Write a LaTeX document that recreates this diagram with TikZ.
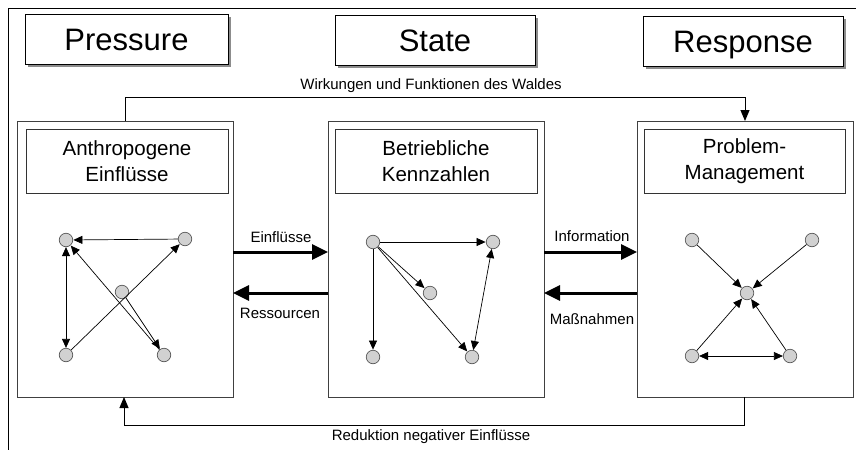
\documentclass[tikz,border=0pt]{standalone}
\usepackage{fontspec}
\setmainfont{Liberation Sans}
\usetikzlibrary{arrows.meta,shadows}

\begin{document}
\begin{tikzpicture}[x=1pt,y=-1pt,
  headbox/.style={draw=black, line width=0.8pt, fill=white, inner sep=0pt, outer sep=0pt,
    minimum height=50pt, text height=23pt, text depth=0pt, font=\fontsize{31}{36}\selectfont,
    drop shadow={shadow xshift=2.5pt, shadow yshift=-2.5pt, fill=black!45, opacity=1}},
  panel/.style={draw=black!75, line width=0.8pt, minimum width=216pt, minimum height=276pt,
    inner sep=0pt, outer sep=0pt},
  titlebox/.style={draw=black!80, line width=0.8pt, minimum width=202pt, minimum height=64pt,
    inner sep=0pt, outer sep=0pt, align=center, font=\fontsize{20.5}{26}\selectfont},
  dot/.style={circle, draw=black!65, fill=black!18, minimum size=13.5pt, inner sep=0pt,
    line width=0.7pt},
  link/.style={line width=0.7pt, -{Triangle[length=9pt,width=8pt]}, shorten >=0.3pt},
  both/.style={line width=0.7pt, {Triangle[length=9pt,width=8pt]}-{Triangle[length=9pt,width=8pt]}},
  fat/.style={line width=3pt, -{Triangle[length=16pt,width=15pt]}},
  loop/.style={line width=1pt, -{Triangle[length=11pt,width=9pt]}},
  lbl/.style={inner sep=0pt, font=\fontsize{15}{18}\selectfont}
]
\useasboundingbox (0,0) rectangle (856,450);

% outer frame (open to the right and the bottom)
\draw[line width=0.8pt] (856,8.5) -- (8,8.5) -- (8,450);

% headings
\node[headbox, minimum width=203pt] (hp) at (126.5,39) {Pressure};
\node[headbox, minimum width=200pt] (hs) at (435,40) {State};
\node[headbox, minimum width=200pt] (hr) at (743,41) {Response};

% three panels
\node[panel] (lp) at (125,259) {};
\node[panel] (mp) at (436,259.5) {};
\node[panel] (rp) at (745,259) {};

\node[titlebox] (lt) at (127,161) {Anthropogene\\Einflüsse};
\node[titlebox] (mt) at (436,161) {Betriebliche\\Kennzahlen};
\node[titlebox, minimum width=201pt] (rt) at (744.5,161.5) {Problem-\\Management};

% left panel network
\node[dot] (a1) at (66,240) {};
\node[dot] (a2) at (185,239) {};
\node[dot] (a3) at (122,292) {};
\node[dot] (a4) at (66,355) {};
\node[dot] (a5) at (164,355) {};
\draw[link] (a2) -- (a1);
\draw[both] (a1) -- (a4);
\draw[link] (a4) -- (a2);
\draw[link] (a5) -- (a1);
\draw[link] (a3) -- (a5);

% middle panel network
\node[dot] (b1) at (373,242) {};
\node[dot] (b2) at (493,242) {};
\node[dot] (b3) at (430,293) {};
\node[dot] (b4) at (373,357) {};
\node[dot] (b5) at (472,357) {};
\draw[link] (b1) -- (b2);
\draw[link] (b1) -- (b3);
\draw[link] (b1) -- (b5);
\draw[link] (b1) -- (b4);
\draw[both] (b2) -- (b5);

% right panel network
\node[dot] (c1) at (692,240) {};
\node[dot] (c2) at (812,240) {};
\node[dot] (c3) at (747,293) {};
\node[dot] (c4) at (692,356) {};
\node[dot] (c5) at (790,356) {};
\draw[link] (c1) -- (c3);
\draw[link] (c2) -- (c3);
\draw[link] (c4) -- (c3);
\draw[link] (c5) -- (c3);
\draw[both] (c4) -- (c5);

% exchange arrows between panels
\coordinate (upper) at (0,252);
\coordinate (lower) at (0,293);
\draw[fat] (lp.east |- upper) -- (mp.west |- upper);
\draw[fat] (mp.west |- lower) -- (lp.east |- lower);
\draw[fat] (mp.east |- upper) -- (rp.west |- upper);
\draw[fat] (rp.west |- lower) -- (mp.east |- lower);
\node[lbl] (l1) at (281,237) {Einflüsse};
\node[lbl] (l2) at (280,313) {Ressourcen};
\node[lbl] (l3) at (592,236) {Information};
\node[lbl] (l4) at (592,319) {Maßnahmen};

% feedback loops
\coordinate (tl) at (125,97);
\coordinate (tr) at (745,97);
\draw[loop] (lp.north -| tl) -- (tl) -- (tr) -- (rp.north -| tr);
\node[lbl] (l5) at (431,86) {Wirkungen und Funktionen des Waldes};

\coordinate (br) at (744,425);
\coordinate (bl) at (124,425);
\draw[loop] (rp.south -| br) -- (br) -- (bl) -- (lp.south -| bl);
\node[lbl] (l6) at (431,437) {Reduktion negativer Einflüsse};
\end{tikzpicture}
\end{document}
